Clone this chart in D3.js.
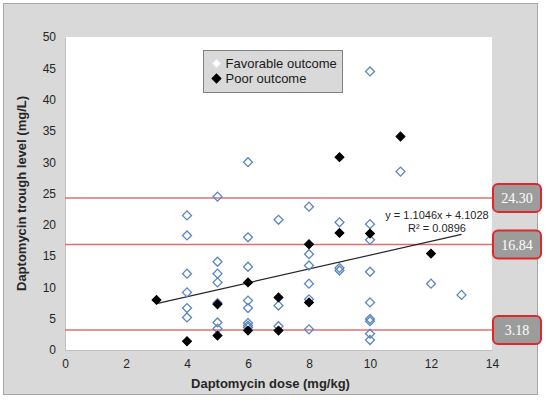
<!DOCTYPE html>
<html>
<head>
<meta charset="utf-8">
<script src="https://cdn.jsdelivr.net/npm/d3@7"></script>
<style>
  body { margin: 0; background: #fff; }
  svg text { font-family: "Liberation Sans", Arial, sans-serif; }
</style>
</head>
<body>
<svg id="chart" width="550" height="402"></svg>
<script>
// favorable outcome points: dose (mg/kg) and trough level (mg/L)
var favDose = [4, 4, 4, 4, 4, 4,
               5, 5, 5, 5, 5, 5, 5,
               6, 6, 6, 6, 6, 6, 6, 6,
               7, 7, 7,
               8, 8, 8, 8, 8, 8,
               9, 9, 9,
               10, 10, 10, 10, 10, 10, 10, 10, 10,
               11, 12, 13];
var favLevel = [21.5, 18.3, 12.2, 9.2, 6.7, 5.2,
                24.5, 14.1, 12.2, 10.8, 7.5, 4.4, 3.4,
                30.0, 18.0, 13.3, 7.9, 6.7, 4.3, 3.9, 3.6,
                20.8, 7.1, 3.8,
                22.9, 15.3, 13.5, 10.6, 8.1, 3.3,
                20.4, 13.1, 12.7,
                44.5, 20.1, 17.6, 12.5, 7.6, 4.95, 4.6, 2.6, 1.6,
                28.5, 10.6, 8.8];

// poor outcome points
var poorDose = [3, 4, 5, 5, 6, 6, 7, 7, 8, 8, 9, 9, 10, 11, 12];
var poorLevel = [8.0, 1.4, 7.3, 2.3, 10.8, 3.1, 8.4, 3.1, 16.9, 7.6, 30.8, 18.7, 18.6, 34.1, 15.4];

// reference levels drawn as red lines with labels
var refLevels = [24.30, 16.84, 3.18];

// linear trend line
var trendSlope = 1.1046, trendIntercept = 4.1028, trendR2 = 0.0896;
var trendRange = [3, 13];

var xTicks = [0, 2, 4, 6, 8, 10, 12, 14];
var yTicks = [0, 5, 10, 15, 20, 25, 30, 35, 40, 45, 50];

var legendLabels = ["Favorable outcome", "Poor outcome"];

var svg = d3.select("#chart");
var margin = { top: 37, left: 65 },
    width = 427,
    height = 313;

// outer gray chart area
svg.append("rect")
    .attr("x", 3.5).attr("y", 3.5)
    .attr("width", 534).attr("height", 391)
    .attr("fill", "#d9d9d9")
    .attr("stroke", "#a6a6a6")
    .attr("stroke-width", 1);

var g = svg.append("g")
    .attr("transform", "translate(" + margin.left + "," + margin.top + ")");

// plot area
g.append("rect")
    .attr("width", width).attr("height", height)
    .attr("fill", "#fff");

var x = d3.scaleLinear().domain([0, 14]).range([0, width]);
var y = d3.scaleLinear().domain([0, 50]).range([height, 0]);

// axes
var xAxis = g.append("g")
    .attr("transform", "translate(0," + height + ")")
    .call(d3.axisBottom(x).tickValues(xTicks).tickSize(0).tickPadding(9));
var yAxis = g.append("g")
    .call(d3.axisLeft(y).tickValues(yTicks).tickSize(0).tickPadding(9));

[xAxis, yAxis].forEach(function (a) {
    a.select(".domain").attr("stroke", "#bfbfbf");
    a.selectAll("text")
        .attr("font-size", 12)
        .attr("fill", "#262626")
        .style("font-family", "'Liberation Sans', Arial, sans-serif");
});

// axis titles
svg.append("text")
    .attr("x", margin.left + width / 2 - 8)
    .attr("y", 388)
    .attr("text-anchor", "middle")
    .attr("font-size", 13)
    .attr("font-weight", "bold")
    .attr("fill", "#262626")
    .text("Daptomycin dose (mg/kg)");

svg.append("text")
    .attr("transform", "translate(26," + (margin.top + height / 2) + ") rotate(-90)")
    .attr("text-anchor", "middle")
    .attr("font-size", 13)
    .attr("font-weight", "bold")
    .attr("fill", "#262626")
    .text("Daptomycin trough level (mg/L)");

// reference lines
g.selectAll(".ref")
    .data(refLevels)
    .enter().append("line")
    .attr("class", "ref")
    .attr("x1", 0)
    .attr("x2", width + 2)
    .attr("y1", function (d) { return y(d); })
    .attr("y2", function (d) { return y(d); })
    .attr("stroke", "#e07070")
    .attr("stroke-width", 1.5);

// trend line
var trend = d3.line()
    .x(function (d) { return x(d); })
    .y(function (d) { return y(trendSlope * d + trendIntercept); });

g.append("path")
    .attr("d", trend(trendRange))
    .attr("fill", "none")
    .attr("stroke", "#262626")
    .attr("stroke-width", 1.2);

g.append("text")
    .attr("x", 372).attr("y", 182)
    .attr("text-anchor", "middle")
    .attr("font-size", 11)
    .attr("fill", "#262626")
    .text("y = " + trendSlope.toFixed(4) + "x  + " + trendIntercept.toFixed(4));
g.append("text")
    .attr("x", 372).attr("y", 195)
    .attr("text-anchor", "middle")
    .attr("font-size", 11)
    .attr("fill", "#262626")
    .text("R\u00b2 = " + trendR2.toFixed(4));

// points
var diamond = d3.symbol().type(d3.symbolSquare).size(40);

var favData = favDose.map(function (d, i) { return { dose: d, level: favLevel[i] }; });
var poorData = poorDose.map(function (d, i) { return { dose: d, level: poorLevel[i] }; });

g.selectAll(".fav")
    .data(favData)
    .enter().append("path")
    .attr("class", "fav")
    .attr("d", diamond)
    .attr("transform", function (d) {
        return "translate(" + x(d.dose) + "," + y(d.level) + ") rotate(45)";
    })
    .attr("fill", "none")
    .attr("stroke", "#5b87c0")
    .attr("stroke-width", 1.3);

g.selectAll(".poor")
    .data(poorData)
    .enter().append("path")
    .attr("class", "poor")
    .attr("d", diamond)
    .attr("transform", function (d) {
        return "translate(" + x(d.dose) + "," + y(d.level) + ") rotate(45)";
    })
    .attr("fill", "#000")
    .attr("stroke", "#000")
    .attr("stroke-width", 1);

// labels for reference levels
var boxes = svg.selectAll(".refbox")
    .data(refLevels)
    .enter().append("g")
    .attr("class", "refbox")
    .attr("transform", function (d) {
        return "translate(" + (margin.left + width + 1) + "," + (margin.top + y(d) - 14) + ")";
    });

boxes.append("rect")
    .attr("width", 48).attr("height", 28)
    .attr("rx", 5).attr("ry", 5)
    .attr("fill", "#9c9c9c")
    .attr("stroke", "#e0282c")
    .attr("stroke-width", 2);

boxes.append("text")
    .attr("x", 24).attr("y", 19)
    .attr("text-anchor", "middle")
    .attr("font-size", 14)
    .attr("fill", "#fff")
    .style("font-family", "'Liberation Serif', 'Times New Roman', serif")
    .text(function (d) { return d.toFixed(2); });

// legend
var legend = svg.append("g").attr("transform", "translate(203.5,50.5)");
legend.append("rect")
    .attr("width", 139).attr("height", 42)
    .attr("fill", "#d9d9d9")
    .attr("stroke", "#808080")
    .attr("stroke-width", 1);

legend.append("path")
    .attr("d", diamond)
    .attr("transform", "translate(13,13) rotate(45)")
    .attr("fill", "#fff")
    .attr("stroke", "#dce6f2")
    .attr("stroke-width", 1);
legend.append("path")
    .attr("d", diamond)
    .attr("transform", "translate(13,28) rotate(45)")
    .attr("fill", "#000")
    .attr("stroke", "#000")
    .attr("stroke-width", 1);

legend.selectAll(".lt")
    .data(legendLabels)
    .enter().append("text")
    .attr("x", 22)
    .attr("y", function (d, i) { return 17.5 + i * 15; })
    .attr("font-size", 13)
    .attr("fill", "#1a1a1a")
    .text(function (d) { return d; });
</script>
</body>
</html>
